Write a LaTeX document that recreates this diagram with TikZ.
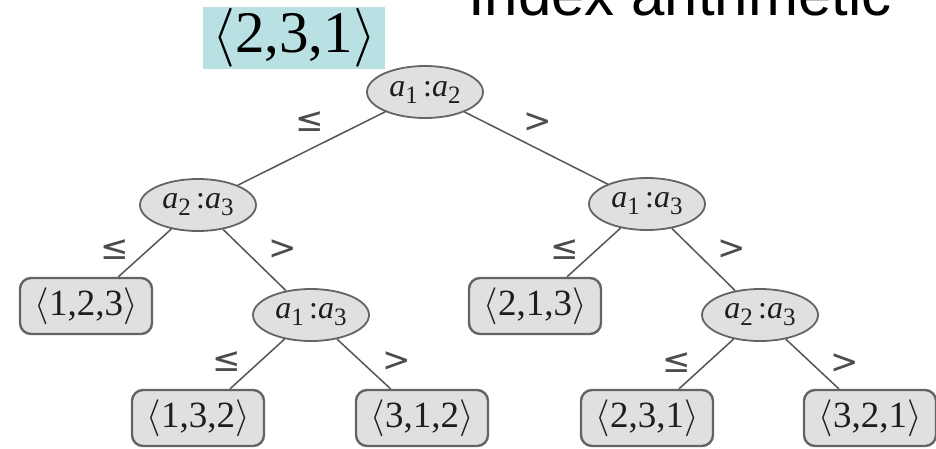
\RequirePackage{fix-cm}
\documentclass[tikz,border=0pt]{standalone}
\usepackage{fontspec}
\setmainfont{Liberation Serif}
\newfontfamily\headfont{Liberation Sans}
\newfontfamily\relfont{DejaVu Sans}
\usetikzlibrary{shapes.geometric}

\definecolor{hilite}{RGB}{185,224,227}
\definecolor{nodefill}{RGB}{224,224,224}
\definecolor{nodeedge}{RGB}{100,100,100}
\definecolor{branchcol}{RGB}{85,85,85}
\definecolor{inktext}{RGB}{30,30,30}

% comparison a_i : a_j
\newcommand\cmppair[2]{\textit{a}{\fontsize{25}{25}\selectfont\raisebox{-0.28em}{#1}}\,:\textit{a}{\fontsize{25}{25}\selectfont\raisebox{-0.28em}{#2}}}
% permutation < x,y,z >
\newcommand\perm[1]{$\langle$#1$\rangle$}

\begin{document}
\begin{tikzpicture}[x=1pt,y=-1pt,
  cmp/.style={ellipse, draw=nodeedge, fill=nodefill, line width=1.8pt,
    minimum width=116pt, minimum height=52pt, inner sep=0pt, text=inktext,
    font=\fontsize{32}{32}\selectfont},
  leaf/.style={rectangle, rounded corners=11pt, draw=nodeedge, fill=nodefill,
    line width=2.4pt, minimum width=132pt, minimum height=56pt, inner sep=0pt,
    text=inktext, font=\fontsize{37}{38}\selectfont},
  branch/.style={draw=branchcol, line width=1.5pt},
  rel/.style={font=\relfont\fontsize{34}{34}\selectfont, text=black!70, inner sep=0pt}
]
\useasboundingbox (0,0) rectangle (936,448);

% heading and highlighted permutation
\node[anchor=base west, inner sep=0pt, font=\headfont\fontsize{60}{60}\selectfont]
  (head) at (468,15) {Index arithmetic};
\node[fill=hilite, minimum width=182pt, minimum height=62pt, inner sep=0pt,
  font=\fontsize{59}{59}\selectfont] (sel) at (294,38) {\perm{2,3,1}};

% internal comparison nodes
\node[cmp] (root) at (425,92)  {\cmppair12};
\node[cmp] (l)    at (198,205) {\cmppair23};
\node[cmp] (r)    at (647,204) {\cmppair13};
\node[cmp] (lr)   at (311,315) {\cmppair13};
\node[cmp] (rr)   at (760,315) {\cmppair23};

% leaves
\node[leaf] (p123) at (86,306)  {\perm{1,2,3}};
\node[leaf] (p213) at (535,306) {\perm{2,1,3}};
\node[leaf] (p132) at (198,418) {\perm{1,3,2}};
\node[leaf] (p312) at (422,418) {\perm{3,1,2}};
\node[leaf] (p231) at (647,418) {\perm{2,3,1}};
\node[leaf] (p321) at (870,418) {\perm{3,2,1}};

% branches
\draw[branch] (root) -- (l);
\draw[branch] (root) -- (r);
\draw[branch] (l) -- (p123);
\draw[branch] (l) -- (lr);
\draw[branch] (r) -- (p213);
\draw[branch] (r) -- (rr);
\draw[branch] (lr) -- (p132);
\draw[branch] (lr) -- (p312);
\draw[branch] (rr) -- (p231);
\draw[branch] (rr) -- (p321);

% branch labels
\node[rel] (e1) at (310,122) {≤};
\node[rel] (e2) at (538,123) {>};
\node[rel] (e3) at (115,250) {≤};
\node[rel] (e4) at (283,250) {>};
\node[rel] (e5) at (565,250) {≤};
\node[rel] (e6) at (732,250) {>};
\node[rel] (e7) at (227,362) {≤};
\node[rel] (e8) at (397,362) {>};
\node[rel] (e9) at (677,363) {≤};
\node[rel] (e10) at (845,364) {>};
\end{tikzpicture}
\end{document}
